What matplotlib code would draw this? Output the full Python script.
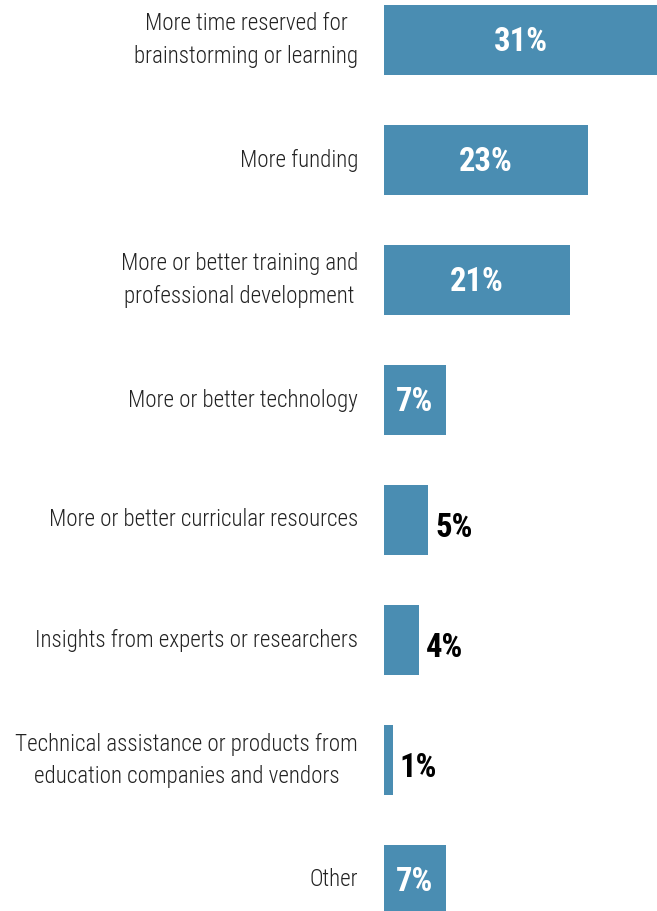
import matplotlib
matplotlib.use("Agg")
import matplotlib.pyplot as plt
from matplotlib import font_manager

categories = [
    "More time reserved for\nbrainstorming or learning",
    "More funding",
    "More or better training and\nprofessional development",
    "More or better technology",
    "More or better curricular resources",
    "Insights from experts or researchers",
    "Technical assistance or products from\neducation companies and vendors",
    "Other",
]
values = [31, 23, 21, 7, 5, 4, 1, 7]

BAR_COLOR = "#4a8db2"

available = {f.name for f in font_manager.fontManager.ttflist}
family = [f for f in ["Roboto Condensed", "Roboto", "DejaVu Sans"] if f in available]
plt.rcParams["font.family"] = family

fig = plt.figure(figsize=(6.57, 9.11), dpi=100)
ax = fig.add_axes([384 / 657, 0, 1 - 384 / 657, 1])

y = list(range(len(values)))
ax.barh(y, values, height=0.583, color=BAR_COLOR)
ax.set_xlim(0, 30.85)
ax.set_ylim((911 - 40) / 120, -40 / 120)
ax.axis("off")

for yi, label, v in zip(y, categories, values):
    ax.annotate(label, xy=(0, yi), xytext=(-18.7, 0), textcoords="offset points",
                ha="right", va="center", fontsize=16.6, color="#222222",
                fontweight="light", multialignment="center", linespacing=1.5,
                annotation_clip=False)
    text = f"{v}%"
    if v >= 6:
        ax.annotate(text, xy=(v / 2, yi), xytext=(0, -1.5), textcoords="offset points",
                    ha="center", va="center", color="white",
                    fontsize=23.5, fontweight="bold")
    else:
        ax.annotate(text, xy=(v, yi), xytext=(5, -5.5), textcoords="offset points",
                    ha="left", va="center", color="black", fontsize=23.5,
                    fontweight="bold")

fig.savefig("out.png", dpi=100)
